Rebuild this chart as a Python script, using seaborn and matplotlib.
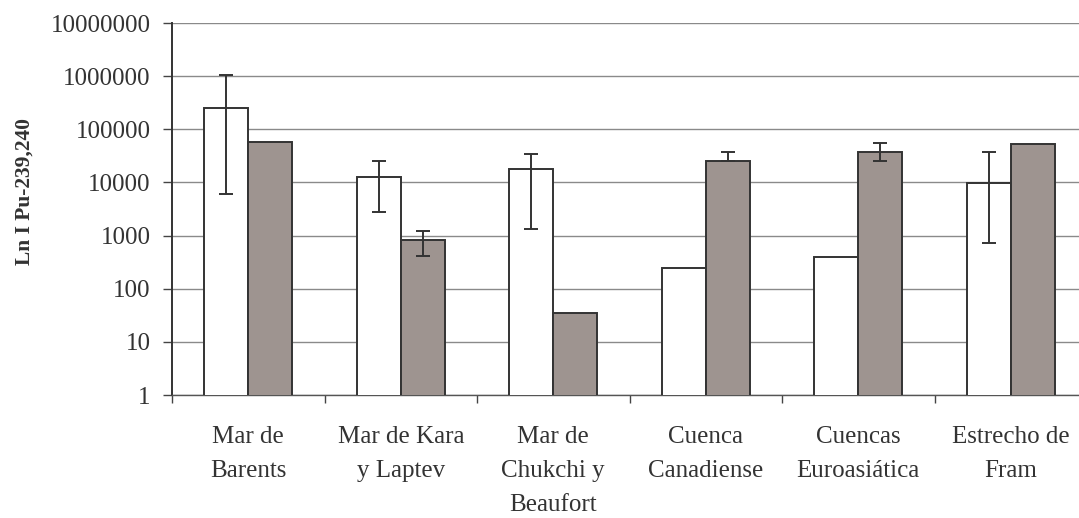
import numpy as np
import pandas as pd
import matplotlib.pyplot as plt
import matplotlib.ticker as mticker
import seaborn as sns

sns.set_style("white")
plt.rcParams['font.family'] = ['Liberation Serif', 'DejaVu Serif']

# datos
regiones = ["Mar de\nBarents", "Mar de Kara\ny Laptev", "Mar de\nChukchi y\nBeaufort",
            "Cuenca\nCanadiense", "Cuencas\nEuroasiática", "Estrecho de\nFram"]
serie_a = [248000, 12800, 17700, 249, 390, 9640]
serie_b = [58400, 826, 34.5, 25600, 36900, 53600]
# limites de las barras de error (nan = sin barra)
a_inf = [6000, 2780, 1310, np.nan, np.nan, 725]
a_sup = [1050000, 25600, 34300, np.nan, np.nan, 37400]
b_inf = [np.nan, 413, np.nan, 25600, 25600, np.nan]
b_sup = [np.nan, 1220, np.nan, 37900, 54500, np.nan]

df = pd.DataFrame({
    'Region': regiones * 2,
    'Valor': serie_a + serie_b,
    'Serie': ['A'] * len(regiones) + ['B'] * len(regiones),
})

fig = plt.figure(figsize=(10.79, 5.18), dpi=100)
ax = fig.add_axes([172 / 1079, 1 - 395 / 518, (1087 - 172) / 1079, (395 - 23) / 518])
ax.set_yscale('log')

sns.barplot(data=df, x='Region', y='Valor', hue='Serie', order=regiones,
            palette={'A': '#ffffff', 'B': '#a0938e'}, width=0.58,
            edgecolor='#333333', linewidth=1.4, legend=False, ax=ax, zorder=3)

limites = [(a_inf, a_sup), (b_inf, b_sup)]
for cont, (inf, sup) in zip(ax.containers, limites):
    xs = np.array([p.get_x() + p.get_width() / 2 for p in cont.patches])
    hs = np.array([p.get_height() for p in cont.patches])
    lo = np.array(inf, dtype=float)
    hi = np.array(sup, dtype=float)
    ok = ~np.isnan(lo)
    err_lo = np.clip(hs[ok] - lo[ok], 0, None)
    err_hi = np.clip(hi[ok] - hs[ok], 0, None)
    ax.errorbar(xs[ok], hs[ok], yerr=[err_lo, err_hi],
                fmt='none', ecolor='#333333', elinewidth=1.4, capsize=4.8,
                capthick=1.4, zorder=4)

ax.set_ylim(1, 1e7)
ax.set_xlim(-0.5, len(regiones) - 0.5)
ax.yaxis.set_major_locator(mticker.LogLocator(base=10, numticks=10))
ax.yaxis.set_minor_locator(mticker.NullLocator())
ax.yaxis.set_major_formatter(mticker.FuncFormatter(lambda v, _: f"{v:.0f}"))
ax.grid(axis='y', color='#8a8a8a', linewidth=1.0, zorder=0)
ax.grid(axis='x', visible=False)

ax.set_xticks(range(len(regiones)))
ax.set_xticklabels(regiones, fontsize=18, linespacing=1.72, va='top', color='#333333')
ax.set_xticks(np.arange(-0.5, len(regiones)), minor=True)
ax.tick_params(axis='x', which='major', length=0, pad=22)
ax.tick_params(axis='x', which='minor', length=6, width=1, color='#444444', direction='out', bottom=True)
ax.tick_params(axis='y', which='major', length=6.5, width=1, color='#444444',
               direction='out', left=True, labelsize=18, labelcolor='#333333', pad=9)

for s in ['top', 'right']:
    ax.spines[s].set_visible(False)
ax.spines['left'].set_color('#333333')
ax.spines['left'].set_linewidth(1.4)
ax.spines['bottom'].set_color('#555555')
ax.spines['bottom'].set_linewidth(1.0)
ax.set_xlabel('')
ax.set_ylabel('')
fig.text(25 / 1079, 1 - 192 / 518, 'Ln I Pu-239,240', rotation=90, ha='center', va='center',
         fontsize=15.5, fontweight='bold', color='#333333')

fig.savefig('out.png', dpi=100)
